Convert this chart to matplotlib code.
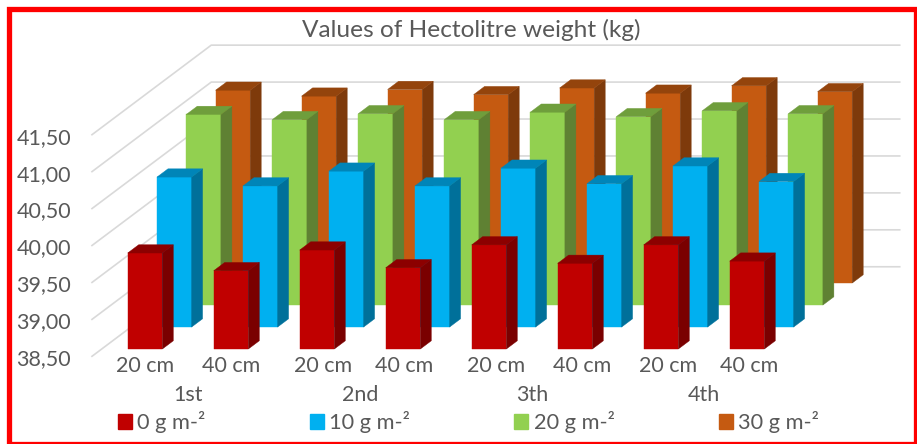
import numpy as np
import matplotlib.pyplot as plt
from matplotlib.patches import Patch, Rectangle
from matplotlib.transforms import ScaledTranslation

plt.rcParams['font.family'] = ['Lato', 'DejaVu Sans']

depth_labels = ['20 cm', '40 cm'] * 4
stage_labels = ['1st', '2nd', '3th', '4th']
series_names = ['0 g m-²', '10 g m-²', '20 g m-²', '30 g m-²']
y_ticks = [38.5, 39.0, 39.5, 40.0, 40.5, 41.0, 41.5]

g0 = [39.80, 39.56, 39.84, 39.60, 39.91, 39.66, 39.91, 39.69]
g10 = [40.53, 40.41, 40.61, 40.41, 40.65, 40.44, 40.68, 40.47]
g20 = [41.08, 41.01, 41.09, 41.01, 41.11, 41.05, 41.13, 41.09]
g30 = [41.11, 41.03, 41.12, 41.05, 41.14, 41.07, 41.17, 41.09]

base_value = 38.5
W, H = 917, 444
GREY = '#595959'
GRID = '#d9d9d9'

# oblique projection: one depth step moves this much in data units
DX = 29.3 / 86
DY = 22 / 73.87
RED_DEPTH = 0.33
BACK_DEPTH = 4.07
BAR_W = 34.6 / 86
BAR_D = 0.375

# face, side, top
colours = [('#c00000', '#7a0000', '#8c0000'),
           ('#00b0f0', '#00709a', '#0085b8'),
           ('#92d050', '#5f8133', '#6f9e3c'),
           ('#c55a11', '#7e3a0b', '#94440c')]


def shift(x, v, d):
    return x + (d - RED_DEPTH) * DX, v + d * DY


fig = plt.figure(figsize=(W / 100, H / 100), dpi=100)
ax = fig.add_axes([92 / W, 1 - 356.3 / H, (899.7 - 92) / W, (356.3 - 44.7) / H])
ax.set_xlim((92 - 145) / 86, (899.7 - 145) / 86)
ax.set_ylim(38.5, 38.5 + (356.3 - 44.7) / 73.87)
for s in ax.spines.values():
    s.set_visible(False)
ax.patch.set_visible(False)

# walls
x_front = ax.get_xlim()[0]
x_right = ax.get_xlim()[1]
x_back = x_front + BACK_DEPTH * DX
for t in y_ticks:
    ax.plot([x_front, x_back, x_right], [t, t + BACK_DEPTH * DY, t + BACK_DEPTH * DY],
            color=GRID, lw=1.2, zorder=0, clip_on=False)

# bars, back row first
x = np.arange(8)
rows = [g0, g10, g20, g30]
for i in [3, 2, 1, 0]:
    d = RED_DEPTH + i
    face, side, top = colours[i]
    z = 10 - i
    bx, bottom = shift(x, base_value, d)
    heights = np.array(rows[i]) - base_value
    ax.bar(bx, heights, BAR_W, bottom=bottom, color=face, edgecolor=face, lw=0.3, zorder=z)
    for xi, h in zip(bx, heights):
        right = xi + BAR_W / 2
        left = xi - BAR_W / 2
        ox, oy = BAR_D * DX, BAR_D * DY
        ax.fill([right, right + ox, right + ox, right],
                [bottom, bottom + oy, bottom + h + oy, bottom + h],
                color=side, lw=0.3, zorder=z)
        ax.fill([left, left + ox, right + ox, right],
                [bottom + h, bottom + h + oy, bottom + h + oy, bottom + h],
                color=top, lw=0.3, zorder=z)

ax.set_yticks(y_ticks)
ax.set_yticklabels([f'{t:.2f}'.replace('.', ',') for t in y_ticks], fontsize=15.5, color=GREY)
ax.set_xticks(x)
ax.set_xticklabels(depth_labels, fontsize=15.5, color=GREY)
ax.tick_params(axis='y', length=0, pad=15)
ax.tick_params(axis='x', length=0, pad=0)

# the labels in the source sit a little off their bars
nudge = [0, 0, 6, 1, 7, 7, 7, 2]
for lab, n in zip(ax.get_xticklabels(), nudge):
    lab.set_transform(lab.get_transform() + ScaledTranslation(n / 100, 0, fig.dpi_scale_trans))
for lab in ax.get_yticklabels():
    lab.set_transform(lab.get_transform() + ScaledTranslation(0, -1 / 100, fig.dpi_scale_trans))

for i, name in enumerate(stage_labels):
    ax.text(2 * i + 0.5, -0.124, name, transform=ax.get_xaxis_transform(),
            ha='center', va='center', fontsize=15.5, color=GREY)

fig.text(471 / W, 1 - 30 / H, 'Values of Hectolitre weight (kg)', ha='center', va='center',
         fontsize=17.6, color=GREY)

handles = [Patch(color=c[0]) for c in colours]
fig.legend(handles, series_names, ncol=4, loc='center left', bbox_to_anchor=(118 / W, 1 - 422 / H),
           frameon=False, fontsize=15.7, labelcolor=GREY, borderaxespad=0, borderpad=0,
           handlelength=0.64, handleheight=0.64, handletextpad=0.25, columnspacing=4.78)

# red frame
fig.add_artist(Rectangle((8.5 / W, 1 - 444 / H), (915.5 - 8.5) / W, (444 - 9) / H,
                         transform=fig.transFigure, fill=False, edgecolor='#ff0000', lw=3.8))

fig.savefig('out.png', dpi=100)
